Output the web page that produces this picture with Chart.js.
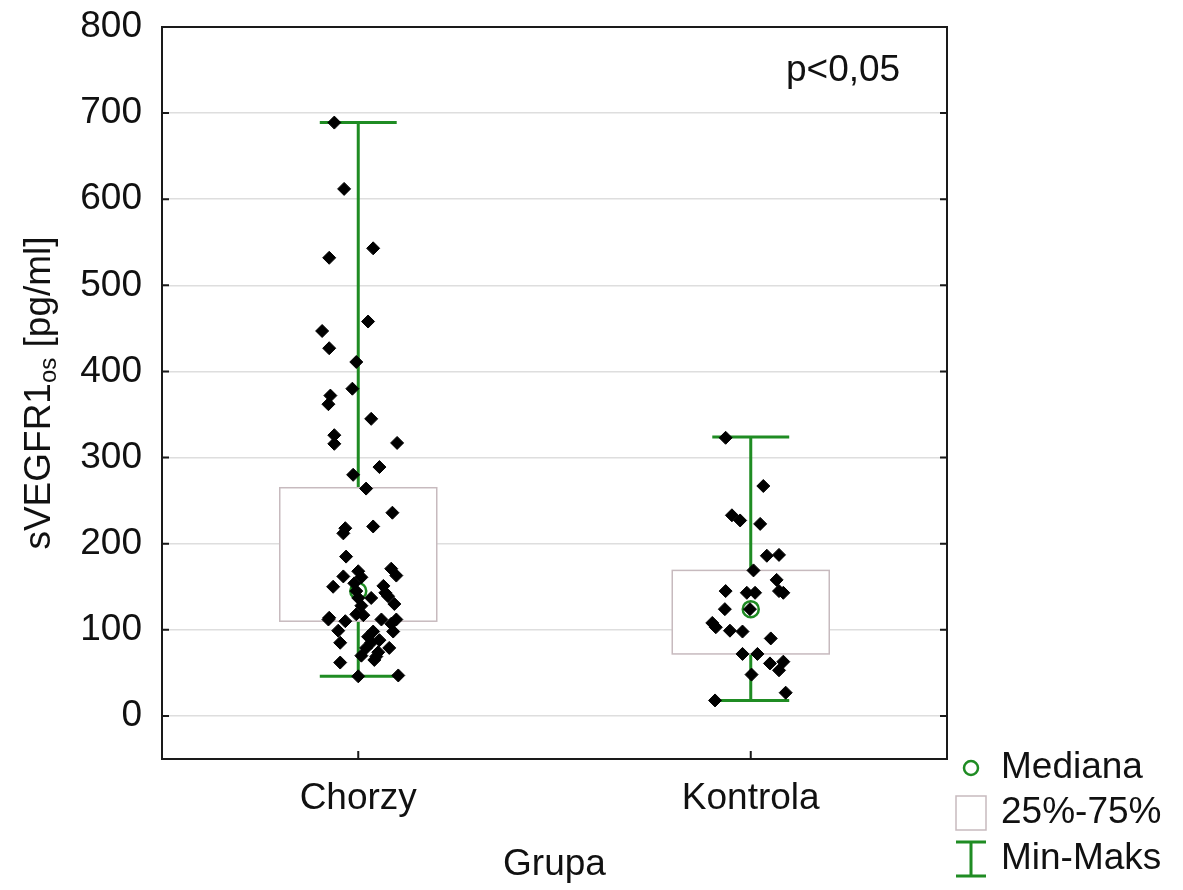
<!DOCTYPE html>
<html>
<head>
<meta charset="utf-8">
<script src="https://cdn.jsdelivr.net/npm/chart.js@4"></script>
<style>
  html, body { margin: 0; padding: 0; background: #fff; }
</style>
</head>
<body>
<canvas id="myChart" width="1183" height="890"></canvas>
<script>
// data
const groups = ["Chorzy", "Kontrola"];
const yTicks = [0, 100, 200, 300, 400, 500, 600, 700, 800];

const chorzyValues = [689, 612, 543, 532, 458, 447, 427, 411, 380, 372, 362, 345, 326, 316, 317, 289, 280, 264,
  236, 220, 218, 212, 185, 171, 163, 162, 168, 161, 150, 154, 151, 143, 145, 137, 137, 139, 130, 128,
  118, 117, 114, 112, 110, 112, 112, 107, 99, 98, 98, 92, 85, 88, 85, 79, 79, 74, 69, 70, 65, 62, 46, 47];
// horizontal spread of the points, in category units
const chorzyJitter = [-0.061, -0.036, 0.038, -0.074, 0.025, -0.092, -0.074, -0.005, -0.015, -0.071, -0.076, 0.033,
  -0.061, -0.061, 0.099, 0.054, -0.013, 0.020, 0.087, 0.038, -0.033, -0.038, -0.031, 0.084, 0.097, -0.038, 0,
  0.008, -0.064, -0.010, 0.064, 0.069, -0.005, 0, 0.033, 0.076, 0.092, 0.008, -0.005, 0.013, -0.074, -0.076,
  -0.033, 0.059, 0.097, 0.084, -0.051, 0.038, 0.089, 0.025, -0.046, 0.054, 0.033, 0.020, 0.079, 0.051, 0.046,
  0.008, 0.041, -0.046, 0, 0.102];

const kontrolaValues = [323, 267, 233, 227, 223, 186, 187, 169, 158, 145, 143, 143, 145, 143, 124, 124, 108, 103,
  99, 98, 90, 72, 72, 61, 63, 53, 48, 27, 18];
const kontrolaJitter = [-0.064, 0.032, -0.048, -0.027, 0.024, 0.041, 0.072, 0.007, 0.066, -0.064, -0.010, 0.011,
  0.072, 0.083, -0.066, -0.002, -0.098, -0.089, -0.053, -0.021, 0.051, -0.021, 0.017, 0.049, 0.083, 0.072,
  0.002, 0.089, -0.091];

const medians = [145, 124];
const q1 = [110, 72];
const q3 = [265, 169];
const mins = [46, 18];
const maxs = [689, 324];

const green = "#1f8c23";
const boxLine = "#c7babe";
const font = "'Liberation Sans', Arial, sans-serif";
const boxHalf = 0.2;
const capHalf = 0.098;

const boxPlot = {
  id: "boxPlot",
  beforeDatasetsDraw(chart) {
    const { ctx, scales: { x, y } } = chart;
    ctx.save();
    groups.forEach((g, i) => {
      const cx = x.getPixelForValue(i);
      ctx.strokeStyle = green;
      ctx.lineWidth = 3;
      ctx.beginPath();
      ctx.moveTo(cx, y.getPixelForValue(mins[i]));
      ctx.lineTo(cx, y.getPixelForValue(maxs[i]));
      [mins[i], maxs[i]].forEach(v => {
        const py = y.getPixelForValue(v);
        ctx.moveTo(x.getPixelForValue(i - capHalf), py);
        ctx.lineTo(x.getPixelForValue(i + capHalf), py);
      });
      ctx.stroke();

      const left = x.getPixelForValue(i - boxHalf);
      const right = x.getPixelForValue(i + boxHalf);
      const top = y.getPixelForValue(q3[i]);
      const bottom = y.getPixelForValue(q1[i]);
      ctx.fillStyle = "#fff";
      ctx.fillRect(left, top, right - left, bottom - top);
      ctx.strokeStyle = boxLine;
      ctx.lineWidth = 1.5;
      ctx.strokeRect(left, top, right - left, bottom - top);
    });
    ctx.restore();
  },
  afterDraw(chart) {
    const { ctx, chartArea: a, scales: { x, y } } = chart;
    ctx.save();
    // frame and inward ticks
    ctx.strokeStyle = "#1a1a1a";
    ctx.lineWidth = 2;
    ctx.strokeRect(a.left, a.top, a.right - a.left, a.bottom - a.top);
    ctx.beginPath();
    yTicks.slice(0, -1).forEach(v => {
      const py = y.getPixelForValue(v);
      ctx.moveTo(a.left, py); ctx.lineTo(a.left + 7, py);
      ctx.moveTo(a.right, py); ctx.lineTo(a.right - 7, py);
    });
    groups.forEach((g, i) => {
      const px = x.getPixelForValue(i);
      ctx.moveTo(px, a.bottom); ctx.lineTo(px, a.bottom - 8);
    });
    ctx.stroke();

    // y title with subscript
    ctx.fillStyle = "#111";
    ctx.textBaseline = "alphabetic";
    const big = "37px " + font, small = "24px " + font;
    ctx.font = big;
    const w1 = ctx.measureText("sVEGFR1").width;
    const w3 = ctx.measureText(" [pg/ml]").width;
    ctx.font = small;
    const w2 = ctx.measureText("os").width;
    const total = w1 + w2 + w3;
    ctx.translate(50, (a.top + a.bottom) / 2);
    ctx.rotate(-Math.PI / 2);
    let sx = -total / 2;
    ctx.font = big;
    ctx.fillText("sVEGFR1", sx, 0);
    sx += w1;
    ctx.font = small;
    ctx.fillText("os", sx, 6);
    sx += w2;
    ctx.font = big;
    ctx.fillText(" [pg/ml]", sx, 0);
    ctx.setTransform(1, 0, 0, 1, 0, 0);

    // p value
    ctx.font = big;
    ctx.textBaseline = "middle";
    ctx.textAlign = "left";
    ctx.fillText("p<0,05", a.right - 161, a.top + 44);

    // legend
    const lx = a.right + 24, tx = a.right + 54;
    const r1 = a.bottom + 9, r2 = a.bottom + 54, r3 = a.bottom + 100;
    ctx.strokeStyle = green;
    ctx.lineWidth = 2.5;
    ctx.beginPath();
    ctx.arc(lx, r1, 7, 0, Math.PI * 2);
    ctx.stroke();
    ctx.strokeStyle = boxLine;
    ctx.lineWidth = 1.5;
    ctx.strokeRect(lx - 15, r2 - 17, 30, 34);
    ctx.strokeStyle = green;
    ctx.lineWidth = 3;
    ctx.beginPath();
    ctx.moveTo(lx - 15, r3 - 17); ctx.lineTo(lx + 15, r3 - 17);
    ctx.moveTo(lx, r3 - 17); ctx.lineTo(lx, r3 + 17);
    ctx.moveTo(lx - 15, r3 + 17); ctx.lineTo(lx + 15, r3 + 17);
    ctx.stroke();
    ctx.fillStyle = "#111";
    ctx.fillText("Mediana", tx, r1);
    ctx.fillText("25%-75%", tx, r2);
    ctx.fillText("Min-Maks", tx, r3);
    ctx.restore();
  }
};

const canvas = document.getElementById("myChart");
new Chart(canvas, {
  type: "scatter",
  data: {
    datasets: [
      {
        label: "Chorzy",
        data: chorzyValues.map((v, i) => ({ x: 0 + chorzyJitter[i], y: v })),
        pointStyle: "rectRot",
        pointRadius: 6.5,
        backgroundColor: "#000",
        borderColor: "#000",
        borderWidth: 1,
        order: 1
      },
      {
        label: "Kontrola",
        data: kontrolaValues.map((v, i) => ({ x: 1 + kontrolaJitter[i], y: v })),
        pointStyle: "rectRot",
        pointRadius: 6.5,
        backgroundColor: "#000",
        borderColor: "#000",
        borderWidth: 1,
        order: 1
      },
      {
        label: "Mediana",
        data: medians.map((m, i) => ({ x: i, y: m })),
        pointStyle: "circle",
        pointRadius: 8,
        backgroundColor: "rgba(0,0,0,0)",
        borderColor: green,
        borderWidth: 2.5,
        order: 3
      }
    ]
  },
  options: {
    responsive: false,
    animation: false,
    layout: { padding: { top: 27, right: 236, left: 0, bottom: 0 } },
    plugins: {
      legend: { display: false },
      tooltip: { enabled: false }
    },
    scales: {
      x: {
        type: "linear",
        min: -0.5,
        max: 1.5,
        afterBuildTicks: s => { s.ticks = groups.map((g, i) => ({ value: i })); },
        afterFit: s => { s.height = 131; s.paddingLeft = 0; s.paddingRight = 0; },
        grid: { display: false, drawTicks: false },
        border: { display: false },
        ticks: {
          padding: 18,
          color: "#111",
          maxRotation: 0,
          autoSkip: false,
          font: { family: font, size: 37 },
          callback: v => groups[v]
        },
        title: {
          display: true,
          text: "Grupa",
          color: "#111",
          font: { family: font, size: 37 },
          padding: { top: 0, bottom: 3 }
        }
      },
      y: {
        min: -50,
        max: 800,
        afterBuildTicks: s => { s.ticks = yTicks.map(v => ({ value: v })); },
        afterFit: s => { s.width = 162; s.paddingTop = 0; s.paddingBottom = 0; },
        grid: {
          drawTicks: false,
          lineWidth: 1.5,
          color: c => (c.tick && c.tick.value === 800) ? "rgba(0,0,0,0)" : "#dedede"
        },
        border: { display: false },
        ticks: {
          padding: 20,
          color: "#111",
          font: { family: font, size: 37 }
        }
      }
    }
  },
  plugins: [boxPlot]
});
</script>
</body>
</html>
